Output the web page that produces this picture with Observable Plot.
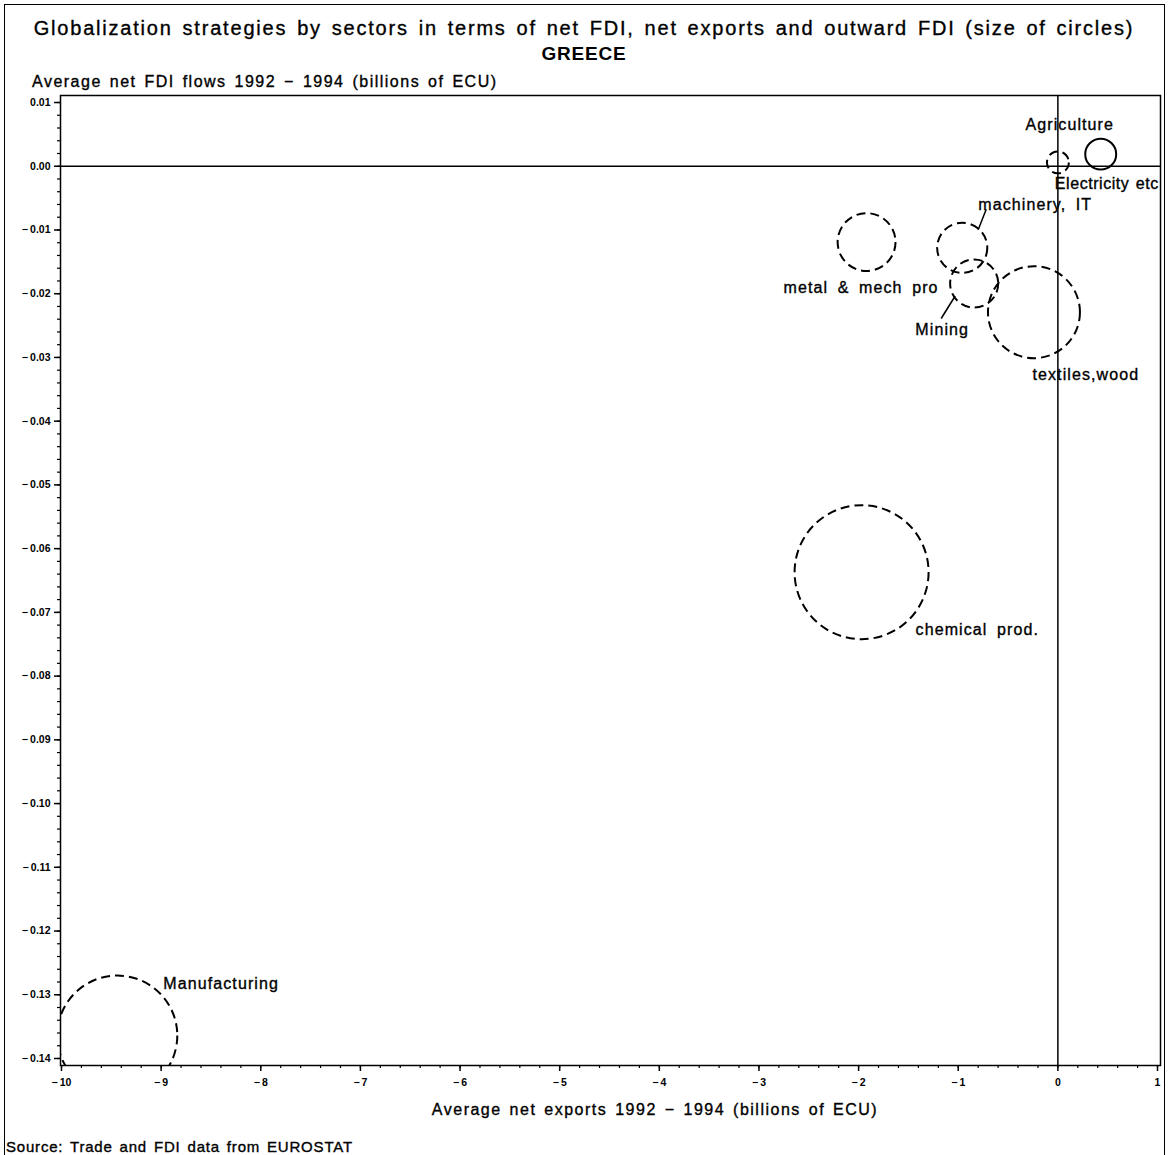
<!DOCTYPE html>
<html>
<head>
<meta charset="utf-8">
<script src="https://cdn.jsdelivr.net/npm/d3@7"></script>
<script src="https://cdn.jsdelivr.net/npm/@observablehq/plot@0.6"></script>
<style>
  html, body { margin: 0; padding: 0; background: #fff; }
  #page { position: relative; width: 1168px; height: 1155px; overflow: hidden; font-family: "Liberation Sans", Arial, Helvetica, sans-serif; color: #000; }
  #border { position: absolute; left: 4px; top: 4px; width: 1159px; height: 1200px; border: 1.5px solid #000; border-bottom: none; }
  .t { position: absolute; white-space: nowrap; -webkit-text-stroke: 0.35px #000; }
  #title { left: 0; width: 1168px; text-align: center; top: 17px; font-size: 20px; letter-spacing: 1.8px; word-spacing: 2.5px; }
  #subtitle { left: 0; width: 1168px; text-align: center; top: 43px; font-size: 19px; font-weight: bold; letter-spacing: 0.8px; -webkit-text-stroke: 0; }
  #ylabel { left: 32px; top: 73px; font-size: 16px; letter-spacing: 1.5px; word-spacing: 2px; }
  #xlabel { left: 0; width: 1310px; text-align: center; top: 1101px; font-size: 16px; letter-spacing: 1.5px; word-spacing: 2px; }
  #source { left: 6px; top: 1138px; font-size: 15px; letter-spacing: 0.8px; word-spacing: 2px; }
  #chart { position: absolute; left: 0; top: 85px; }
</style>
</head>
<body>
<div id="page">
  <div id="border"></div>
  <div class="t" id="title">Globalization strategies by sectors in terms of net FDI, net exports and outward FDI (size of circles)</div>
  <div class="t" id="subtitle">GREECE</div>
  <div class="t" id="ylabel">Average net FDI flows 1992 − 1994 (billions of ECU)</div>
  <div id="chart"></div>
  <div class="t" id="xlabel">Average net exports 1992 − 1994 (billions of ECU)</div>
  <div class="t" id="source">Source: Trade and FDI data from EUROSTAT</div>
</div>
<script>
// Sectors and their values (billions of ECU, averages 1992-1994)
const sectors    = ["Agriculture", "Electricity etc", "machinery, IT", "metal & mech pro", "Mining", "textiles,wood", "chemical prod.", "Manufacturing"];
const netExports = [0.43, 0.00, -0.96, -1.92, -0.84, -0.24, -1.97, -9.44];
const netFDI     = [0.0019, 0.0006, -0.0128, -0.0119, -0.0184, -0.0229, -0.0637, -0.1364];
const outwardFDI = [2.4, 1.2, 6.3, 8.4, 5.8, 21.2, 45.0, 36.1];
const lineStyle  = ["solid", "dashed", "dashed", "dashed", "dashed", "dashed", "dashed", "dashed"];

// Axis ticks
const xTicks      = d3.range(-10, 1.001, 1);
const xMinorTicks = d3.range(-10, 1.001, 0.2).map(v => Math.round(v * 10) / 10);
const yTicks      = d3.range(-14, 1.5, 1).map(v => v / 100);
const yMinorTicks = d3.range(-70, 5.5, 1).map(v => v / 500);

const data = sectors.map((sector, i) => ({
  sector, x: netExports[i], y: netFDI[i], size: outwardFDI[i], style: lineStyle[i]
}));

// Chart geometry
const W = 1168, H = 1020;
const M = {top: 10, right: 8, bottom: 40, left: 60};
const xDomain = [-10.01, 1.03];
const yDomain = [-0.1411, 0.0111];
const kx = (xDomain[1] - xDomain[0]) / (W - M.left - M.right);   // data units per pixel
const ky = (yDomain[1] - yDomain[0]) / (H - M.top - M.bottom);

// Label placement relative to each circle centre, in pixels (dx right, dy down)
const labelPlacement = {
  "Agriculture":      {dx: -31,  dy: -29,  anchor: "middle", ls: 1.1, ws: 4},
  "Electricity etc":  {dx: -3,   dy: 21,   anchor: "start",  ls: 0.55, ws: 1.5},
  "machinery, IT":    {dx: 16,   dy: -43,  anchor: "start",  ls: 1.1, ws: 4},
  "metal & mech pro": {dx: 72,   dy: 45.5, anchor: "end",    ls: 1.1, ws: 4},
  "Mining":           {dx: -32,  dy: 46.5, anchor: "middle", ls: 1.1, ws: 4},
  "textiles,wood":    {dx: -1.5, dy: 63,   anchor: "start",  ls: 1.1, ws: 4},
  "chemical prod.":   {dx: 54,   dy: 58,   anchor: "start",  ls: 1.1, ws: 4},
  "Manufacturing":    {dx: 46,   dy: -52,  anchor: "start",  ls: 1.1, ws: 4}
};
// Leader lines from a label to its circle, in pixels from the circle centre
const leaders = {
  "machinery, IT": [[24, -38.5], [16, -18]],
  "Mining":        [[-19, 12.5], [-33, 35]]
};

const labels = data.map(d => {
  const p = labelPlacement[d.sector];
  return {sector: d.sector, x: d.x + p.dx * kx, y: d.y - p.dy * ky, ...p};
});
const leaderLines = data.filter(d => leaders[d.sector]).map(d => {
  const [[ax, ay], [bx, by]] = leaders[d.sector];
  return {x1: d.x + ax * kx, y1: d.y - ay * ky, x2: d.x + bx * kx, y2: d.y - by * ky};
});

const minus = s => s.replace("-", "\u2212\u2009");
const fmtY = v => minus(v.toFixed(2).replace("-0.00", "0.00"));
const fmtX = v => minus(String(v));

const tickFont = {fontSize: 10.5, fontWeight: "bold", fontFamily: "Liberation Sans, Arial, sans-serif"};

const plot = Plot.plot({
  width: W, height: H,
  marginTop: M.top, marginRight: M.right, marginBottom: M.bottom, marginLeft: M.left,
  style: {fontFamily: "Liberation Sans, Arial, Helvetica, sans-serif", background: "transparent", overflow: "visible"},
  x: {domain: xDomain},
  y: {domain: yDomain},
  r: {type: "sqrt", domain: [0, 45], range: [0, 67]},
  marks: [
    Plot.frame({stroke: "black", strokeWidth: 1.5}),
    Plot.ruleX([0], {stroke: "black", strokeWidth: 1.5}),
    Plot.ruleY([0], {stroke: "black", strokeWidth: 1.5}),
    Plot.axisX(xMinorTicks, {tickSize: 3, tickFormat: () => "", strokeWidth: 1.2, label: null}),
    Plot.axisX(xTicks, {tickSize: 6, tickPadding: 7, tickFormat: fmtX, strokeWidth: 1.5, label: null, ...tickFont}),
    Plot.axisY(yMinorTicks, {tickSize: 3, tickFormat: () => "", strokeWidth: 1.2, label: null}),
    Plot.axisY(yTicks, {tickSize: 6, tickPadding: 4, tickFormat: fmtY, strokeWidth: 1.5, label: null, ...tickFont}),
    Plot.dot(data.filter(d => d.style === "dashed"), {
      x: "x", y: "y", r: "size", stroke: "black", strokeWidth: 2, fill: "none",
      strokeDasharray: "9,5", clip: true
    }),
    Plot.dot(data.filter(d => d.style === "solid"), {
      x: "x", y: "y", r: "size", stroke: "black", strokeWidth: 2, fill: "none", clip: true
    }),
    Plot.link(leaderLines, {x1: "x1", y1: "y1", x2: "x2", y2: "y2", stroke: "black", strokeWidth: 1.5}),
    Plot.text(labels, {
      x: "x", y: "y", text: "sector",
      fontSize: 16, fill: "black", stroke: "black", strokeWidth: 0.35, lineAnchor: "middle"
    })
  ]
});

// Per-label anchoring and spacing from the label table
d3.select(plot).selectAll("g[aria-label=text] text").each(function(_, i) {
  d3.select(this)
    .attr("text-anchor", labels[i].anchor)
    .style("letter-spacing", labels[i].ls + "px")
    .style("word-spacing", labels[i].ws + "px")
    .attr("paint-order", "normal");
});

document.getElementById("chart").appendChild(plot);
</script>
</body>
</html>
